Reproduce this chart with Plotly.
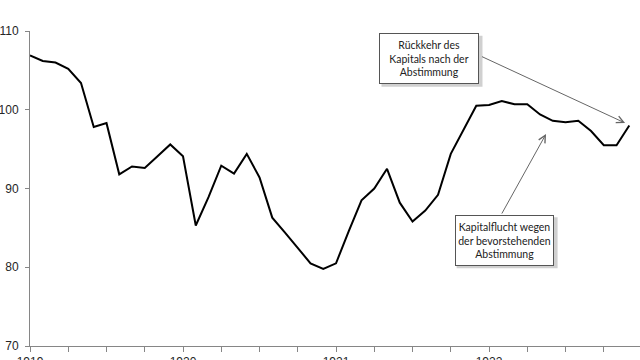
import plotly.graph_objects as go

# Monthly index values, Jan 1919 .. Dec 1922
months = list(range(48))
values = [
    106.9, 106.2, 106.0, 105.2, 103.4, 97.8, 98.3, 91.8, 92.8, 92.6, 94.1, 95.6,
    94.1, 85.3, 88.9, 92.9, 91.9, 94.4, 91.4, 86.3, 84.4, 82.4, 80.5, 79.8,
    80.5, 84.6, 88.5, 90.0, 92.5, 88.2, 85.8, 87.2, 89.2, 94.4, 97.4, 100.5,
    100.6, 101.1, 100.7, 100.7, 99.4, 98.6, 98.4, 98.6, 97.3, 95.5, 95.5, 98.0,
]
year_ticks = [0, 12, 24, 36]
year_labels = ["1919", "1920", "1921", "1922"]
quarter_ticks = list(range(0, 48, 3))
quarter_labels = [year_labels[year_ticks.index(t)] if t in year_ticks else "" for t in quarter_ticks]

label_return = "Rückkehr des<br>Kapitals nach der<br>Abstimmung"
label_flight = "Kapitalflucht wegen<br>der bevorstehenden<br>Abstimmung"

fig = go.Figure()
fig.add_trace(go.Scatter(x=months, y=values, mode="lines",
                         line=dict(color="black", width=2), hoverinfo="skip"))

axis_font = dict(family="Liberation Sans, Arial, sans-serif", size=12, color="#262626")
fig.update_layout(
    width=640, height=360,
    margin=dict(l=30, r=0, t=31, b=14, autoexpand=False),
    paper_bgcolor="white", plot_bgcolor="white",
    showlegend=False,
    xaxis=dict(range=[0, 47.84], tickvals=quarter_ticks, ticktext=quarter_labels,
               automargin=False,
               showgrid=False, zeroline=False, showline=True, linecolor="#868686",
               linewidth=1, ticks="outside", ticklen=5, tickcolor="#868686",
               tickfont=axis_font, ticklabelstandoff=0),
    yaxis=dict(range=[70, 110], tickvals=[70, 80, 90, 100, 110],
               automargin=False,
               showgrid=False, zeroline=False, showline=True, linecolor="#868686",
               linewidth=1, ticks="outside", ticklen=4, tickcolor="#868686",
               tickfont=axis_font, ticklabelstandoff=4),
)

box_font = dict(family="Lato, sans-serif", size=10.5, color="#222222")

# subtle drop shadows behind the text boxes (pixel offsets relative to box)
for (cx, cy) in [(31.33, 106.47), (37.22, 83.42)]:
    fig.add_shape(type="rect", xref="x", yref="y", xsizemode="pixel", ysizemode="pixel",
                  xanchor=cx, yanchor=cy, x0=-48, x1=53, y0=-28, y1=23,
                  fillcolor="#d0d0d0", line=dict(width=0), layer="above")

fig.add_annotation(x=31.33, y=106.47, text=label_return, showarrow=False,
                   font=box_font, bgcolor="white", bordercolor="#555555",
                   borderwidth=1, borderpad=0, width=98, height=49, align="center")
fig.add_annotation(x=37.22, y=83.42, text=label_flight, showarrow=False,
                   font=box_font, bgcolor="white", bordercolor="#555555",
                   borderwidth=1, borderpad=0, width=97, height=49, align="center")

# arrows
fig.add_annotation(x=46.67, y=98.32, ax=35.33, ay=106.83, axref="x", ayref="y",
                   text="", showarrow=True, arrowhead=5, arrowsize=1.4,
                   arrowwidth=1, arrowcolor="#666666", standoff=0, startstandoff=0)
fig.add_annotation(x=40.47, y=96.92, ax=36.94, ay=86.63, axref="x", ayref="y",
                   text="", showarrow=True, arrowhead=5, arrowsize=1.4,
                   arrowwidth=1, arrowcolor="#666666", standoff=0, startstandoff=0)

fig.write_html("out.html", config={"displayModeBar": False},
               post_script="document.body.style.margin='0';")
